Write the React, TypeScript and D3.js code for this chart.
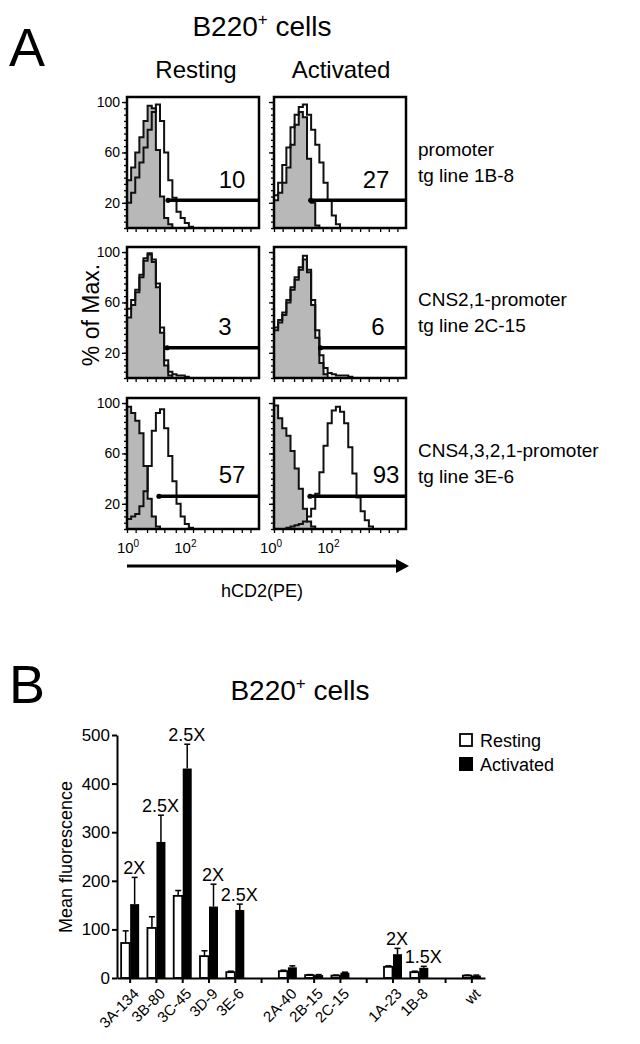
import React, { useEffect, useRef } from 'react';
import * as d3 from 'd3';

// ---- panel A: histogram channel values (% of max), log channels over 10^0..10^4.6
const rest1Ctl = [38, 48, 60, 72, 85, 97, 95, 62, 25, 8, 3];
const rest1Tg = [20, 28, 40, 52, 64, 78, 92, 98, 85, 60, 38, 24, 13, 8, 4, 1];
const act1Ctl = [22, 28, 36, 48, 66, 82, 92, 88, 55, 20, 2];
const act1Tg = [26, 36, 50, 64, 80, 90, 96, 98, 90, 78, 66, 52, 36, 22, 10, 3];
const rest2Ctl = [48, 58, 68, 80, 93, 98, 92, 72, 36, 10, 2];
const rest2Tg = [55, 62, 70, 82, 95, 99, 94, 75, 40, 14, 5, 3, 2, 2, 1];
const act2Ctl = [38, 44, 50, 60, 70, 78, 86, 94, 84, 58, 32, 12, 3];
const act2Tg = [40, 46, 52, 62, 72, 80, 88, 97, 86, 62, 38, 18, 8, 4, 3, 2, 2, 2, 1];
const rest3Ctl = [97, 92, 86, 76, 50, 24, 10, 2];
const rest3Tg = [8, 10, 12, 18, 30, 50, 78, 92, 95, 80, 58, 38, 20, 10, 4, 1];
const act3Ctl = [98, 88, 80, 74, 62, 48, 32, 16, 6, 2];
const act3Tg = [0, 0, 0, 1, 2, 3, 4, 6, 10, 16, 28, 45, 66, 84, 94, 97, 93, 84, 65, 44, 25, 14, 7, 2];

const gatePct = ['10', '27', '3', '6', '57', '93'];
const gateStart = [27, 19, 25, 42, 13, 18];
const gateLevel = [22, 22, 24, 24, 26, 26];
const histYLabels = [20, 60, 100];
const rowLabels = [
  ['promoter', 'tg line 1B-8'],
  ['CNS2,1-promoter', 'tg line 2C-15'],
  ['CNS4,3,2,1-promoter', 'tg line 3E-6'],
];

// ---- panel B: mean fluorescence per tg line
const lines = ['3A-134', '3B-80', '3C-45', '3D-9', '3E-6', '', '2A-40', '2B-15', '2C-15', '', '1A-23', '1B-8', '', 'wt'];
const resting = [72, 103, 169, 45, 12, null, 14, 6, 5, null, 23, 12, null, 5];
const restingSem = [25, 23, 11, 11, 2, null, 2, 1, 1, null, 2, 2, null, 1];
const activated = [152, 280, 431, 147, 140, null, 22, 6, 11, null, 49, 21, null, 5];
const activatedSem = [55, 55, 50, 46, 12, null, 3, 1, 1, null, 12, 3, null, 1];
const foldChange = ['2X', '2.5X', '2.5X', '2X', '2.5X', '', '', '', '', '', '2X', '1.5X', '', ''];
const yTicksB = [0, 100, 200, 300, 400, 500];

const FONT = '"Liberation Sans", Arial, sans-serif';

export default function App() {
  const ref = useRef<SVGSVGElement>(null);

  useEffect(() => {
    const svg = d3.select(ref.current);
    svg.selectAll('*').remove();

    const title = (x: number, y: number) => {
      const t = svg.append('text').attr('x', x).attr('y', y).attr('text-anchor', 'middle').attr('font-size', 28);
      t.append('tspan').text('B220');
      t.append('tspan').attr('font-size', 17).attr('dy', -11).text('+');
      t.append('tspan').attr('dy', 11).text(' cells');
    };

    // ================= panel A =================
    svg.append('text').attr('x', 9).attr('y', 66).attr('font-size', 54).text('A');
    title(262, 36);
    svg.append('text').attr('x', 196).attr('y', 78).attr('text-anchor', 'middle').attr('font-size', 24).text('Resting');
    svg.append('text').attr('x', 341).attr('y', 78).attr('text-anchor', 'middle').attr('font-size', 24).text('Activated');

    const panels = [
      [rest1Ctl, rest1Tg], [act1Ctl, act1Tg],
      [rest2Ctl, rest2Tg], [act2Ctl, act2Tg],
      [rest3Ctl, rest3Tg], [act3Ctl, act3Tg],
    ];
    const colX = [127, 274];
    const rowY = [97, 247, 398];
    const boxW = 132, boxH = 131;
    const maxDec = 4.6, nBins = 32, binW = maxDec / nBins;
    const numX = [105, 102, 98, 104, 105, 112];
    const numY = [91, 91, 88, 88, 85, 85];

    const x = d3.scaleLog().domain([1, Math.pow(10, maxDec)]).range([0, boxW]);
    const y = d3.scaleLinear().domain([0, 104]).range([boxH, 0]);
    const toPts = (arr: number[]) => [
      ...arr.map((v, k) => [Math.pow(10, k * binW), v]),
      [Math.pow(10, arr.length * binW), 0],
    ];
    const area = d3.area<number[]>().x(d => x(d[0])).y0(y(0)).y1(d => y(d[1])).curve(d3.curveStepAfter);
    const line = d3.line<number[]>().x(d => x(d[0])).y(d => y(d[1])).curve(d3.curveStepAfter);

    panels.forEach(([ctl, tg], i) => {
      const col = i % 2, row = Math.floor(i / 2);
      const g = svg.append('g').attr('transform', `translate(${colX[col]},${rowY[row]})`);

      g.append('path').datum(toPts(ctl)).attr('d', area).attr('fill', '#b8b8b8');
      g.append('path').datum(toPts(ctl)).attr('d', line).attr('fill', 'none').attr('stroke', '#111').attr('stroke-width', 2);
      g.append('path').datum(toPts(tg)).attr('d', line).attr('fill', 'none').attr('stroke', '#111').attr('stroke-width', 2);

      // gate
      g.append('line')
        .attr('x1', x(gateStart[i])).attr('x2', boxW)
        .attr('y1', y(gateLevel[i])).attr('y2', y(gateLevel[i]))
        .attr('stroke', '#000').attr('stroke-width', 3.5);
      g.append('circle').attr('cx', x(gateStart[i])).attr('cy', y(gateLevel[i])).attr('r', 2.6).attr('fill', '#000');
      g.append('text').attr('x', numX[i]).attr('y', numY[i]).attr('text-anchor', 'middle').attr('font-size', 24).text(gatePct[i]);

      // axes ticks
      const minor = g.append('g').call(d3.axisLeft(y).tickValues(d3.range(0, 101, 5)).tickSize(3).tickFormat(() => ''));
      minor.select('.domain').remove();
      const major = g.append('g').call(d3.axisLeft(y).tickValues(histYLabels).tickSize(5).tickPadding(2)
        .tickFormat(d => (col === 0 ? String(d) : '')));
      major.select('.domain').remove();
      major.selectAll('text').attr('font-size', 14).attr('font-family', FONT).attr('fill', '#000');
      const xt = g.append('g').attr('transform', `translate(0,${boxH})`)
        .call(d3.axisBottom(x).tickValues([1, 2, 5, 10, 20, 50, 100, 200, 500, 1000, 2000, 5000, 1e4, 2e4]).tickSize(4).tickFormat(() => ''));
      xt.select('.domain').remove();
      svg.selectAll('.tick line').attr('stroke-width', 1.3);

      g.append('rect').attr('width', boxW).attr('height', boxH).attr('fill', 'none').attr('stroke', '#000').attr('stroke-width', 2.5);

      if (row === 2) {
        [[1, '0'], [100, '2']].forEach(([v, e]) => {
          const t = g.append('text').attr('x', x(v as number) + (col === 0 ? 1 : -3)).attr('y', boxH + 24)
            .attr('text-anchor', 'middle').attr('font-size', 15);
          t.append('tspan').text('10');
          t.append('tspan').attr('font-size', 10).attr('dy', -6).text(e as string);
        });
      }
      if (col === 1) {
        const lab = svg.append('text').attr('x', 418).attr('font-size', 19);
        lab.append('tspan').attr('x', 418).attr('y', rowY[row] + 59).text(rowLabels[row][0]);
        lab.append('tspan').attr('x', 418).attr('y', rowY[row] + 85).text(rowLabels[row][1]);
      }
    });

    svg.append('text').attr('transform', 'translate(99,315) rotate(-90)').attr('text-anchor', 'middle')
      .attr('font-size', 23).text('% of Max.');
    svg.append('line').attr('x1', 127).attr('x2', 398).attr('y1', 566).attr('y2', 566).attr('stroke', '#000').attr('stroke-width', 3);
    svg.append('path').attr('d', 'M396,559 L409,566 L396,573 Z').attr('fill', '#000');
    svg.append('text').attr('x', 262).attr('y', 597).attr('text-anchor', 'middle').attr('font-size', 18).text('hCD2(PE)');

    // ================= panel B =================
    svg.append('text').attr('x', 9).attr('y', 703).attr('font-size', 54).text('B');
    title(300, 700);

    const idx = lines.map((_, k) => String(k));
    const xB = d3.scaleBand().domain(idx).range([117, 485]).padding(0);
    const yB = d3.scaleLinear().domain([0, 500]).range([978, 735]);
    const barW = 9;

    const gB = svg.append('g');
    lines.forEach((_, k) => {
      if (resting[k] == null) return;
      const cx = (xB(String(k)) as number) + xB.bandwidth() / 2;
      const rTop = (resting[k] as number) + (restingSem[k] as number);
      const aTop = (activated[k] as number) + (activatedSem[k] as number);
      // error bars (upper only)
      [[cx - barW / 2, rTop, resting[k]], [cx + barW / 2, aTop, activated[k]]].forEach(([ex, top, v]) => {
        gB.append('line').attr('x1', ex as number).attr('x2', ex as number).attr('y1', yB(v as number)).attr('y2', yB(top as number))
          .attr('stroke', '#000').attr('stroke-width', 1.5);
        gB.append('line').attr('x1', (ex as number) - 3).attr('x2', (ex as number) + 3).attr('y1', yB(top as number)).attr('y2', yB(top as number))
          .attr('stroke', '#000').attr('stroke-width', 1.5);
      });
      gB.append('rect').attr('x', cx - barW).attr('width', barW - 0.5)
        .attr('y', yB(resting[k] as number)).attr('height', yB(0) - yB(resting[k] as number))
        .attr('fill', '#fff').attr('stroke', '#000').attr('stroke-width', 1.8);
      gB.append('rect').attr('x', cx).attr('width', barW)
        .attr('y', yB(activated[k] as number)).attr('height', yB(0) - yB(activated[k] as number))
        .attr('fill', '#000');
      if (foldChange[k]) {
        gB.append('text').attr('x', cx + 4).attr('y', yB(Math.max(rTop, aTop)) - 3)
          .attr('text-anchor', 'middle').attr('font-size', 18).text(foldChange[k]);
      }
    });

    const yAx = svg.append('g').attr('transform', 'translate(117,0)')
      .call(d3.axisLeft(yB).tickValues(yTicksB).tickSize(5).tickSizeOuter(0).tickPadding(2));
    yAx.selectAll('text').attr('font-size', 17).attr('font-family', FONT).attr('fill', '#000');
    yAx.selectAll('line,path').attr('stroke-width', 2);

    const xAx = svg.append('g').attr('transform', 'translate(0,978)')
      .call(d3.axisBottom(xB).tickSize(5).tickSizeOuter(0).tickFormat(d => lines[+d]));
    xAx.selectAll('line,path').attr('stroke-width', 2);
    xAx.selectAll('text')
      .attr('font-size', 15).attr('font-family', FONT).attr('fill', '#000')
      .attr('text-anchor', 'end').attr('x', 0).attr('y', 0).attr('dy', '0.35em')
      .attr('transform', 'translate(6,13) rotate(-45)');

    svg.append('text').attr('transform', 'translate(72,857) rotate(-90)').attr('text-anchor', 'middle')
      .attr('font-size', 18).text('Mean fluorescence');

    // legend
    svg.append('rect').attr('x', 460).attr('y', 734).attr('width', 12).attr('height', 12)
      .attr('fill', '#fff').attr('stroke', '#000').attr('stroke-width', 1.8);
    svg.append('rect').attr('x', 459).attr('y', 757).attr('width', 14).attr('height', 14).attr('fill', '#000');
    svg.append('text').attr('x', 480).attr('y', 747).attr('font-size', 18).text('Resting');
    svg.append('text').attr('x', 480).attr('y', 771).attr('font-size', 18).text('Activated');
  }, []);

  return (
    <svg ref={ref} width={640} height={1044}
      style={{ position: 'absolute', left: 0, top: 0, background: '#fff', color: '#000', fontFamily: FONT }} />
  );
}
